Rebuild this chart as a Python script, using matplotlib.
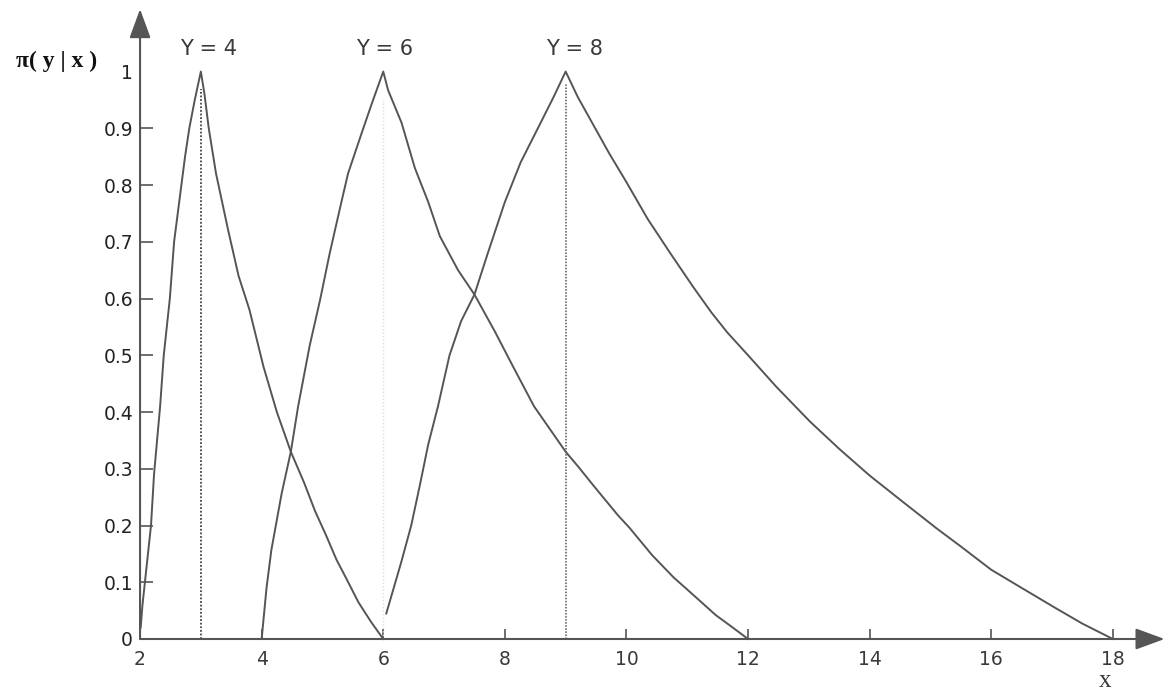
import matplotlib
matplotlib.use("Agg")
import matplotlib.pyplot as plt

# possibility curves pi(y|x) for three observed values of Y
y4_x = [2.01, 2.04, 2.08, 2.13, 2.18, 2.23, 2.28, 2.33, 2.39, 2.44, 2.49, 2.56, 2.62, 2.68,
        2.74, 2.81, 2.9, 3.0, 3.06, 3.13, 3.25, 3.45, 3.62, 3.8, 4.03, 4.25, 4.48, 4.7,
        4.88, 5.05, 5.23, 5.4, 5.59, 5.8, 6.0]
y4_y = [0.02, 0.06, 0.1, 0.15, 0.2, 0.29, 0.35, 0.41, 0.5, 0.55, 0.6, 0.7, 0.75, 0.8,
        0.85, 0.9, 0.95, 1.0, 0.96, 0.9, 0.82, 0.72, 0.64, 0.58, 0.48, 0.4, 0.33, 0.275,
        0.225, 0.185, 0.14, 0.105, 0.065, 0.03, 0.0]

y6_x = [4.0, 4.08, 4.16, 4.33, 4.48, 4.6, 4.79, 4.96, 5.12, 5.29, 5.42, 5.64, 5.81, 6.0,
        6.08, 6.3, 6.52, 6.74, 6.93, 7.23, 7.5, 7.83, 8.15, 8.48, 9.0, 9.22, 9.46, 9.86,
        10.05, 10.42, 10.78, 10.97, 11.47, 11.75, 12.0]
y6_y = [0.0, 0.09, 0.157, 0.257, 0.33, 0.41, 0.517, 0.597, 0.68, 0.76, 0.82, 0.89, 0.943, 1.0,
        0.967, 0.91, 0.83, 0.77, 0.71, 0.65, 0.607, 0.543, 0.477, 0.41, 0.33, 0.302, 0.27, 0.218,
        0.196, 0.148, 0.108, 0.09, 0.042, 0.02, 0.0]

y8_x = [6.05, 6.3, 6.46, 6.6, 6.74, 6.9, 7.09, 7.28, 7.5, 7.72, 8.0, 8.26, 8.59, 8.81, 9.0,
        9.2, 9.46, 9.72, 10.0, 10.35, 10.72, 11.1, 11.4, 11.66, 12.0, 12.46, 13.02, 13.5,
        14.0, 14.53, 15.1, 15.5, 16.0, 16.5, 17.05, 17.5, 18.0]
y8_y = [0.045, 0.137, 0.2, 0.27, 0.343, 0.41, 0.5, 0.56, 0.607, 0.68, 0.77, 0.84, 0.91,
        0.957, 1.0, 0.955, 0.905, 0.855, 0.805, 0.74, 0.68, 0.62, 0.575, 0.54, 0.5, 0.445,
        0.383, 0.335, 0.288, 0.243, 0.195, 0.163, 0.122, 0.09, 0.055, 0.027, 0.0]

curve_labels = ["Y = 4", "Y = 6", "Y = 8"]
label_x = [3.13, 6.02, 9.14]
mode_x = [3, 6, 9]
mode_top = [0.97, 0.95, 0.98]

x_ticks = [2, 4, 6, 8, 10, 12, 14, 16, 18]
y_ticks = [0, 0.1, 0.2, 0.3, 0.4, 0.5, 0.6, 0.7, 0.8, 0.9, 1]
y_tick_labels = ["0", "0.1", "0.2", "0.3", "0.4", "0.5", "0.6", "0.7", "0.8", "0.9", "1"]

line_col = "#555555"
text_col = "#3a3a3a"

fig = plt.figure(figsize=(11.69, 6.96), dpi=100)
ax = fig.add_axes([0.1198, 0.0819, 0.8764, 0.905])
ax.set_xlim(2, 18.85)
ax.set_ylim(0, 1.11)

for xs, ys in [(y4_x, y4_y), (y6_x, y6_y), (y8_x, y8_y)]:
    ax.plot(xs, ys, color=line_col, lw=1.4, clip_on=False)

# dotted lines at the modes
ax.vlines(mode_x[0], 0, mode_top[0], colors="#444444", linestyles=(0, (1, 1)), lw=1.3)
ax.vlines(mode_x[1], 0, mode_top[1], colors="#dddddd", linestyles=(0, (1, 1.5)), lw=1.0)
ax.vlines(mode_x[2], 0, mode_top[2], colors="#555555", linestyles=(0, (1, 1)), lw=1.1)

for lab, lx in zip(curve_labels, label_x):
    ax.text(lx, 1.04, lab, ha="center", va="center", fontsize=15,
            family="DejaVu Sans", color=text_col)

# axes drawn as arrows
for s in ax.spines.values():
    s.set_visible(False)
arrow = dict(arrowstyle="-|>,head_length=0.9,head_width=0.33", mutation_scale=20,
             color=line_col, lw=1.5, shrinkA=0, shrinkB=0)
ax.annotate("", xy=(18.85, 0), xytext=(2, 0), arrowprops=arrow, annotation_clip=False)
ax.annotate("", xy=(2, 1.11), xytext=(2, 0), arrowprops=arrow, annotation_clip=False)

ax.set_xticks(x_ticks)
ax.set_yticks(y_ticks)
ax.set_yticklabels(y_tick_labels)
ax.tick_params(axis="x", direction="in", length=7, width=1.2, color=line_col, pad=8,
               labelsize=13.5, labelcolor=text_col)
ax.tick_params(axis="y", direction="in", length=9.5, width=1.2, color=line_col, pad=5,
               labelsize=13.5, labelcolor="#222222")
for lab in ax.get_xticklabels() + ax.get_yticklabels():
    lab.set_family("DejaVu Sans")
ax.yaxis.get_major_ticks()[-1].tick1line.set_visible(False)

fig.text(0.048, 0.912, "π( y | x )", ha="center", va="center", fontsize=17,
         family="Liberation Serif", weight="bold", color="#111111")
fig.text(0.945, 0.022, "x", ha="center", va="center", fontsize=18,
         family="Liberation Serif", color=text_col)

fig.savefig("out.png", dpi=100, facecolor="white")
